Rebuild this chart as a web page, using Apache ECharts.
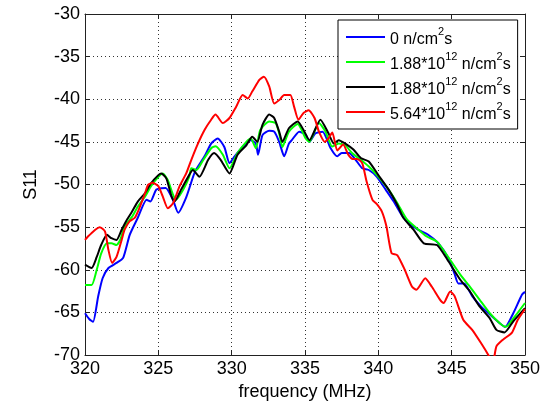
<!DOCTYPE html>
<html>
<head>
<meta charset="utf-8">
<script src="https://cdn.jsdelivr.net/npm/echarts@6/dist/echarts.min.js"></script>
<style>
html,body{margin:0;padding:0;background:#fff;}
#chart{width:556px;height:408px;}
</style>
</head>
<body>
<div id="chart"></div>
<script>
// ---- data ----
const xTicks = [320, 325, 330, 335, 340, 345, 350];
const yTicks = [-70, -65, -60, -55, -50, -45, -40, -35, -30];

const freqBlue = [320.0,320.3,320.55,320.9,321.2,321.6,322.15,322.6,323.05,323.6,324.2,324.46,324.87,325.5,326.0,326.35,326.9,327.5,328.15,328.6,329.05,329.5,329.85,330.2,330.75,331.3,331.65,331.8,332.1,332.56,332.9,333.24,333.58,333.9,334.1,334.6,335.05,335.3,335.7,336.2,336.75,337.2,337.5,338.0,338.45,338.9,339.35,339.9,340.5,341.05,341.6,342.05,342.7,343.4,344.1,344.8,345.2,345.45,345.85,346.4,347.0,347.7,348.3,348.65,349.2,349.8,350.0];
const s11Blue = [-65.1,-65.8,-66.1,-63.1,-61.0,-59.8,-59.2,-58.6,-55.9,-53.9,-51.8,-52.0,-50.6,-50.4,-51.8,-53.3,-51.5,-48.5,-46.7,-45.2,-44.6,-45.6,-47.5,-46.7,-45.6,-44.8,-45.2,-46.5,-44.2,-43.7,-43.8,-45.0,-46.7,-45.2,-44.8,-43.8,-44.2,-45.0,-44.0,-43.8,-45.75,-46.7,-46.3,-46.3,-47.1,-48.1,-48.3,-49.1,-50.6,-52.0,-53.6,-54.5,-55.3,-55.9,-56.9,-58.7,-60.5,-61.6,-61.6,-63.1,-64.3,-65.4,-66.3,-66.7,-65.1,-62.9,-62.6];

const freqGreen = [320.0,320.45,320.8,321.1,321.5,321.8,322.15,322.4,322.7,323.2,323.6,324.1,324.5,325.0,325.3,325.65,326.0,326.2,326.7,327.1,327.25,327.6,328.0,328.6,328.9,329.4,329.85,330.4,331.0,331.3,331.65,331.95,332.56,333.0,333.24,333.46,333.9,334.5,335.05,335.3,335.95,336.4,336.85,337.3,337.75,338.2,338.8,339.35,339.9,340.7,341.3,341.95,342.6,343.3,344.0,344.8,345.6,346.25,346.9,347.6,348.3,348.7,349.3,350.0];
const s11Green = [-61.8,-61.8,-60.0,-58.1,-56.9,-56.9,-57.1,-56.5,-54.9,-53.8,-52.6,-51.4,-50.2,-49.1,-48.7,-49.5,-51.2,-51.8,-50.6,-49.1,-48.1,-48.3,-47.3,-45.75,-45.5,-46.5,-48.1,-46.3,-45.0,-44.6,-45.75,-43.6,-42.6,-42.8,-44.0,-45.6,-43.8,-42.9,-44.6,-45.0,-42.8,-43.8,-45.55,-45.2,-45.4,-46.3,-47.1,-47.9,-48.9,-50.6,-52.2,-54.1,-55.1,-56.1,-56.7,-58.6,-60.6,-62.0,-63.5,-65.1,-66.3,-66.7,-65.5,-63.9];

const freqBlack = [320.0,320.45,320.8,321.1,321.5,321.8,322.15,322.5,322.8,323.2,323.6,324.1,324.5,325.0,325.2,325.55,325.9,326.1,326.55,327.1,327.35,327.8,328.4,328.8,329.25,329.85,330.4,331.0,331.4,331.75,332.1,332.56,332.9,333.24,333.46,333.9,334.5,334.9,335.3,336.05,336.6,336.97,337.3,337.75,338.3,338.8,339.35,340.0,340.7,341.3,341.7,342.4,343.1,344.0,344.7,345.6,346.25,346.9,347.6,348.05,348.6,349.2,350.0];
const s11Black = [-59.4,-59.8,-58.5,-57.1,-55.9,-56.3,-56.5,-55.3,-54.3,-53.2,-52.0,-51.0,-49.85,-48.9,-48.7,-49.3,-51.4,-52.0,-50.6,-48.9,-48.3,-49.1,-47.1,-46.3,-47.1,-48.7,-46.5,-45.4,-44.4,-45.0,-43.0,-41.8,-42.2,-43.8,-45.0,-43.4,-42.6,-43.6,-44.8,-42.4,-44.0,-45.2,-44.8,-45.2,-45.9,-46.9,-47.3,-48.9,-50.6,-52.4,-53.9,-55.3,-56.9,-57.1,-58.8,-61.2,-62.55,-64.3,-65.7,-67.05,-67.35,-66.05,-64.5];

const freqRed = [320.0,320.2,320.7,321.0,321.36,321.6,321.85,322.15,322.5,322.7,323.05,323.4,323.7,324.1,324.3,324.6,325.0,325.3,325.65,326.0,326.45,326.9,327.25,327.7,328.15,328.6,328.9,329.4,329.85,330.3,330.75,331.1,331.4,331.9,332.2,332.56,332.9,333.24,333.58,334.0,334.26,334.55,334.9,335.25,335.65,335.95,336.35,336.6,336.86,337.2,337.6,337.95,338.25,338.55,338.9,339.2,339.6,339.9,340.25,340.55,340.9,341.3,341.8,342.3,342.6,343.2,343.65,344.2,344.45,344.9,345.2,345.8,346.4,347.0,347.5,347.8,348.05,348.5,349.1,349.5,350.0];
const s11Red = [-56.5,-56.1,-55.3,-55.0,-55.5,-57.7,-59.2,-58.5,-56.5,-55.3,-54.3,-53.9,-52.8,-51.0,-50.05,-49.8,-50.2,-51.4,-52.8,-52.2,-50.2,-48.7,-47.1,-45.2,-43.6,-42.4,-41.8,-42.8,-42.2,-40.9,-39.5,-39.9,-39.1,-37.7,-37.35,-38.5,-40.5,-40.1,-39.5,-39.5,-40.9,-42.4,-41.6,-41.3,-42.2,-43.8,-45.0,-44.6,-43.9,-46.0,-45.3,-46.5,-47.0,-47.0,-47.5,-49.65,-51.8,-52.3,-53.2,-54.9,-58.05,-58.3,-60.0,-62.0,-62.35,-61.0,-62.0,-63.5,-63.9,-62.55,-63.1,-65.9,-67.05,-68.6,-70.0,-71.0,-69.0,-68.2,-67.4,-65.9,-64.6];

const seriesNames = ['flux0', 'flux188a', 'flux188b', 'flux564'];
const legendLabels = [
  '{t|0 n/cm}{s|2}{t|s}',
  '{t|1.88*10}{s|12}{t| n/cm}{s|2}{t|s}',
  '{t|1.88*10}{s|12}{t| n/cm}{s|2}{t|s}',
  '{t|5.64*10}{s|12}{t| n/cm}{s|2}{t|s}'
];
const seriesColors = ['#0000ff', '#00ff00', '#000000', '#ff0000'];

// ---- chart ----
const FONT = 'Liberation Sans, Arial, sans-serif';
function pairs(xs, ys) { return xs.map((x, i) => [x, ys[i]]); }
const allData = [pairs(freqBlue, s11Blue), pairs(freqGreen, s11Green), pairs(freqBlack, s11Black), pairs(freqRed, s11Red)];

const chart = echarts.init(document.getElementById('chart'), null, {renderer: 'canvas'});
const gridLine = {show: true, lineStyle: {color: '#333', width: 1, type: [1, 3]}};
const tick = {show: true, inside: true, length: 5, lineStyle: {color: '#222'}};
const axLine = {show: true, onZero: false, lineStyle: {color: '#222', width: 1}};

chart.setOption({
  animation: false,
  backgroundColor: '#fff',
  grid: {left: 85, right: 31, top: 14, bottom: 53, containLabel: false},
  legend: {
    data: seriesNames,
    orient: 'vertical',
    left: 338, top: 20,
    padding: [6, 7, 6, 8],
    itemGap: 3,
    itemWidth: 39,
    itemHeight: 2,
    icon: 'rect',
    backgroundColor: '#fff',
    borderColor: '#000',
    borderWidth: 1,
    borderRadius: 0,
    formatter: function (name) { return legendLabels[seriesNames.indexOf(name)]; },
    textStyle: {
      fontFamily: FONT, color: '#000',
      rich: {
        t: {fontFamily: FONT, fontSize: 16, color: '#000', lineHeight: 22, verticalAlign: 'bottom'},
        s: {fontFamily: FONT, fontSize: 11, color: '#000', lineHeight: 13, verticalAlign: 'top'}
      }
    }
  },
  xAxis: [{
    type: 'value', min: xTicks[0], max: xTicks[xTicks.length - 1], interval: 5,
    name: 'frequency (MHz)', nameLocation: 'middle', nameGap: 28,
    nameTextStyle: {fontFamily: FONT, fontSize: 18, color: '#000'},
    axisLine: axLine, axisTick: tick, splitLine: gridLine,
    axisLabel: {fontFamily: FONT, fontSize: 18, color: '#000', margin: 5}
  }, {
    type: 'value', position: 'top', min: xTicks[0], max: xTicks[xTicks.length - 1], interval: 5,
    axisLine: axLine, axisTick: tick, splitLine: {show: false}, axisLabel: {show: false}
  }],
  yAxis: [{
    type: 'value', min: yTicks[0], max: yTicks[yTicks.length - 1], interval: 5,
    name: 'S11', nameLocation: 'middle', nameGap: 45, nameRotate: 90,
    nameTextStyle: {fontFamily: FONT, fontSize: 18, color: '#000'},
    axisLine: axLine, axisTick: tick, splitLine: gridLine,
    axisLabel: {fontFamily: FONT, fontSize: 18, color: '#000', margin: 5}
  }, {
    type: 'value', position: 'right', min: yTicks[0], max: yTicks[yTicks.length - 1], interval: 5,
    axisLine: axLine, axisTick: tick, splitLine: {show: false}, axisLabel: {show: false}
  }],
  series: seriesNames.map((n, i) => ({
    name: n, type: 'line', data: allData[i],
    xAxisIndex: 0, yAxisIndex: 0,
    showSymbol: false, symbol: 'none', smooth: 0.2, clip: true,
    color: seriesColors[i],
    lineStyle: {color: seriesColors[i], width: 2},
    z: 2 + i
  }))
});
</script>
</body>
</html>
